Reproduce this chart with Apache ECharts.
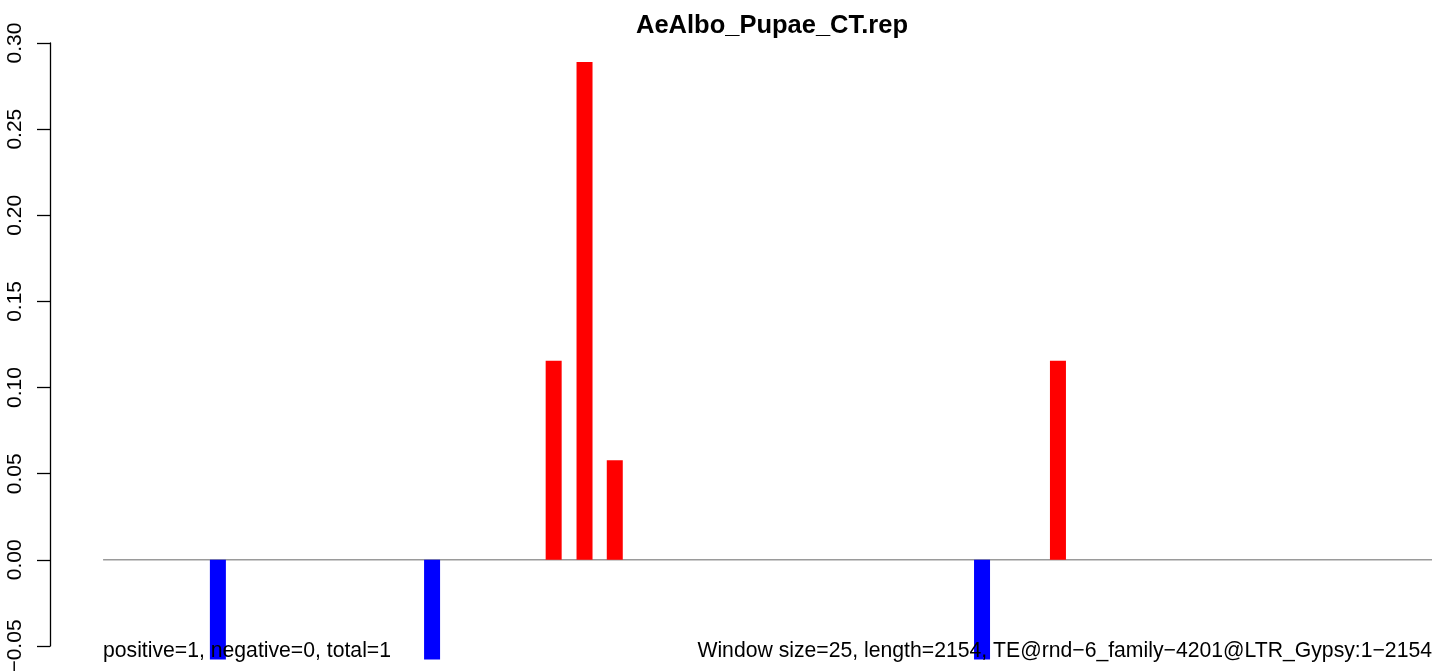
<!DOCTYPE html>
<html>
<head>
<meta charset="utf-8">
<script src="https://cdn.jsdelivr.net/npm/echarts@6/dist/echarts.min.js"></script>
<style>
html,body{margin:0;padding:0;background:#fff;}
#chart{width:1439px;height:671px;}
</style>
</head>
<body>
<div id="chart"></div>
<script>
// Data
const titleText = 'AeAlbo_Pupae_CT.rep';
const windowPositions = [187, 534, 731, 781, 830, 1425, 1548];   // bp (window centres)
const windowValues = [-0.0578, -0.0578, 0.1156, 0.2889, 0.0578, -0.0578, 0.1156];
const seqStart = 1;
const seqLength = 2154;
const yTicks = [-0.05, 0.00, 0.05, 0.10, 0.15, 0.20, 0.25, 0.30];
const leftNote = 'positive=1, negative=0, total=1';
const rightNote = 'Window size=25, length=2154, TE@rnd\u22126_family\u22124201@LTR_Gypsy:1\u22122154';

const FONT = '"Liberation Sans", Arial, Helvetica, sans-serif';

const chart = echarts.init(document.getElementById('chart'), null, {renderer: 'canvas'});

const barData = windowPositions.map((x, i) => ({
  value: [x, windowValues[i]],
  itemStyle: {color: windowValues[i] >= 0 ? '#ff0000' : '#0000ff'}
}));

const option = {
  backgroundColor: '#ffffff',
  animation: false,
  title: {
    text: titleText,
    left: 767,
    textAlign: 'center',
    top: 8,
    textStyle: {fontFamily: FONT, fontWeight: 'bold', fontSize: 25.5, color: '#000'}
  },
  grid: {left: 50, right: 7, top: 43, bottom: 25, containLabel: false, outerBoundsMode: 'none'},
  xAxis: {
    type: 'value',
    min: -85,
    max: seqLength,
    show: false
  },
  yAxis: {
    type: 'value',
    min: yTicks[0],
    max: yTicks[yTicks.length - 1],
    interval: 0.05,
    axisLine: {show: true, onZero: false, lineStyle: {color: '#000', width: 1.3}},
    axisTick: {show: true, length: 13, lineStyle: {color: '#000', width: 1.3}},
    splitLine: {show: false},
    axisLabel: {
      rotate: 90,
      margin: 24,
      fontFamily: FONT,
      fontSize: 21,
      color: '#000',
      formatter: v => (v < 0 ? '\u2212' : '') + Math.abs(v).toFixed(2)
    }
  },
  series: [
    {
      type: 'line',
      data: [[seqStart, 0], [seqLength, 0]],
      showSymbol: false,
      symbol: 'none',
      lineStyle: {color: '#9a9a9a', width: 1.5},
      z: 1,
      silent: true
    },
    {
      type: 'bar',
      data: barData,
      barWidth: 16,
      clip: false,
      z: 2
    }
  ],
  graphic: [
    {
      type: 'text',
      left: 103,
      top: 641,
      z: 100,
      style: {text: leftNote, fontFamily: FONT, fontSize: 21.2, fill: '#000'}
    },
    {
      type: 'text',
      right: 7,
      top: 641,
      z: 100,
      style: {text: rightNote, fontFamily: FONT, fontSize: 21.2, fill: '#000'}
    }
  ]
};
chart.setOption(option);
</script>
</body>
</html>
